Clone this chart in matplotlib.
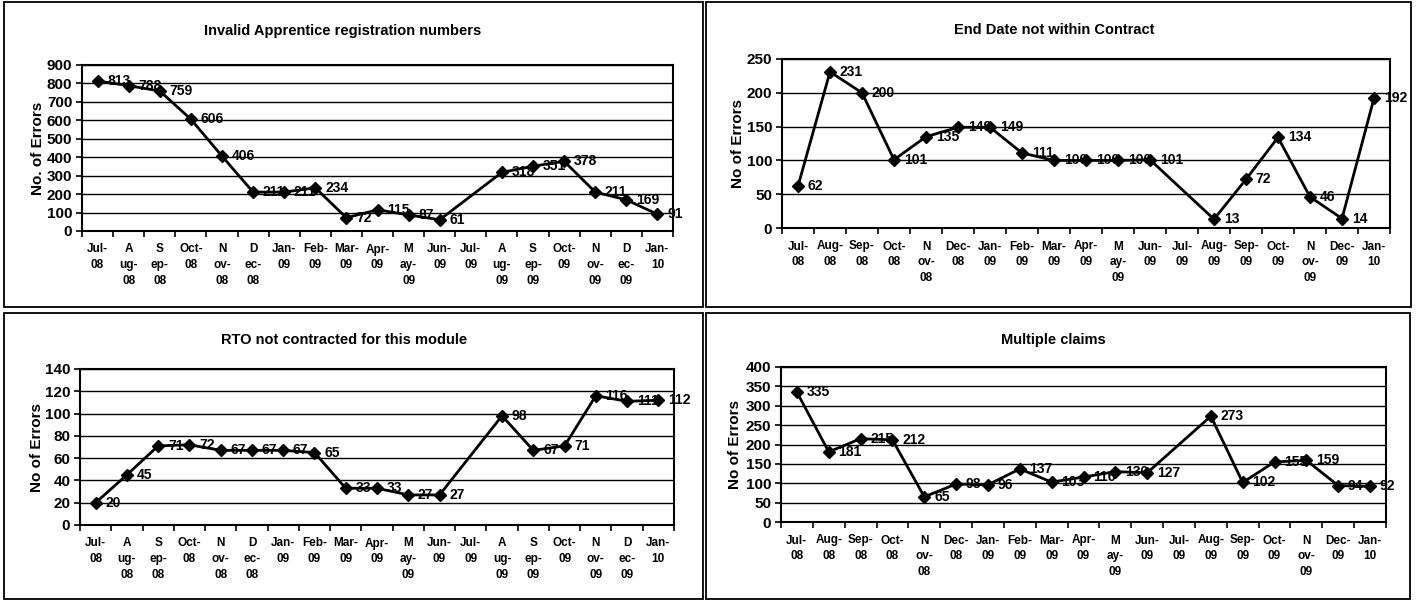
import matplotlib
matplotlib.use('Agg')
import matplotlib.pyplot as plt
from matplotlib.patches import Rectangle
import numpy as np

plt.rcParams['font.family'] = ['Liberation Sans', 'DejaVu Sans']
plt.rcParams['font.weight'] = 'bold'

W, H = 1419, 600

# ---- data (Jul-08 .. Jan-10, Jul-09 has no value) ----
months = ['Jul-08', 'Aug-08', 'Sep-08', 'Oct-08', 'Nov-08', 'Dec-08', 'Jan-09',
          'Feb-09', 'Mar-09', 'Apr-09', 'May-09', 'Jun-09', 'Jul-09', 'Aug-09',
          'Sep-09', 'Oct-09', 'Nov-09', 'Dec-09', 'Jan-10']

# wrapped tick labels as the spreadsheet drew them
ticks_narrow = ['Jul-\n08', 'A\nug-\n08', 'S\nep-\n08', 'Oct-\n08', 'N\nov-\n08',
                'D\nec-\n08', 'Jan-\n09', 'Feb-\n09', 'Mar-\n09', 'Apr-\n09',
                'M\nay-\n09', 'Jun-\n09', 'Jul-\n09', 'A\nug-\n09', 'S\nep-\n09',
                'Oct-\n09', 'N\nov-\n09', 'D\nec-\n09', 'Jan-\n10']
ticks_wide = ['Jul-\n08', 'Aug-\n08', 'Sep-\n08', 'Oct-\n08', 'N\nov-\n08',
              'Dec-\n08', 'Jan-\n09', 'Feb-\n09', 'Mar-\n09', 'Apr-\n09',
              'M\nay-\n09', 'Jun-\n09', 'Jul-\n09', 'Aug-\n09', 'Sep-\n09',
              'Oct-\n09', 'N\nov-\n09', 'Dec-\n09', 'Jan-\n10']

invalid_reg = [813, 788, 759, 606, 406, 211, 211, 234, 72, 115, 87, 61, None,
               318, 351, 378, 211, 169, 91]
end_date = [62, 231, 200, 101, 135, 149, 149, 111, 100, 100, 100, 101, None,
            13, 72, 134, 46, 14, 192]
rto_module = [20, 45, 71, 72, 67, 67, 67, 65, 33, 33, 27, 27, None,
              98, 67, 71, 116, 111, 112]
multi_claims = [335, 181, 215, 212, 65, 98, 96, 137, 103, 116, 130, 127, None,
                273, 102, 155, 159, 94, 92]


def px_rect(l, t, r, b):
    return [l / W, 1 - b / H, (r - l) / W, (b - t) / H]


def draw_panel(fig, box, title, title_xy, ylabel, ylabel_x, values, ymax, ystep, ticklabels):
    ax = fig.add_axes(px_rect(*box))
    x = [i for i, v in enumerate(values) if v is not None]
    y = [v for v in values if v is not None]
    ax.plot(x, y, color='black', lw=2, marker='D', ms=6, mfc='black', mec='black', zorder=3)
    for xi, yi in zip(x, y):
        ax.annotate(str(yi), (xi, yi), xytext=(7, 0), textcoords='offset points',
                    ha='left', va='center', fontsize=10, fontweight='bold', zorder=4)

    ax.set_xlim(-0.5, len(months) - 0.5)
    ax.set_ylim(0, ymax)
    ax.set_yticks(np.arange(0, ymax + 1, ystep))
    ax.set_xticks(range(len(months)))
    ax.set_xticklabels(ticklabels, fontsize=8.5, fontweight='bold', linespacing=1.4, va='top')
    ax.set_xticks(np.arange(-0.5, len(months)), minor=True)
    ax.tick_params(axis='x', which='major', length=0, pad=9)
    ax.tick_params(axis='x', which='minor', length=4, width=1.2, direction='out')
    ax.tick_params(axis='y', length=4, width=1.2, direction='out', pad=3, labelsize=11)
    for lab in ax.get_yticklabels():
        lab.set_fontweight('bold')
    ax.grid(axis='y', color='black', lw=1)
    ax.set_axisbelow(True)
    for s in ax.spines.values():
        s.set_linewidth(1.5)

    fig.text(title_xy[0] / W, 1 - title_xy[1] / H, title, ha='center', va='center',
             fontsize=10.5, fontweight='bold')
    cy = (box[1] + box[3]) / 2
    fig.text(ylabel_x / W, 1 - cy / H, ylabel, rotation=90, ha='center', va='center',
             fontsize=11, fontweight='bold')
    return ax


fig = plt.figure(figsize=(W / 100, H / 100), dpi=100)

# panel frames
for l, t, r, b in [(4, 2, 703, 307), (706, 2, 1411, 307), (4, 313, 703, 599), (706, 313, 1410, 599)]:
    fig.add_artist(Rectangle((l / W, 1 - b / H), (r - l) / W, (b - t) / H,
                             transform=fig.transFigure, fill=False, ec='black', lw=1.3))

draw_panel(fig, (82, 65, 673, 231), 'Invalid Apprentice registration numbers', (343, 31),
           'No. of Errors', 38, invalid_reg, 900, 100, ticks_narrow)
draw_panel(fig, (782, 59, 1390, 228), 'End Date not within Contract', (1054, 30),
           'No of Errors', 738, end_date, 250, 50, ticks_wide)
draw_panel(fig, (80, 369, 674, 525), 'RTO not contracted for this module', (344, 340),
           'No of Errors', 37, rto_module, 140, 20, ticks_narrow)
draw_panel(fig, (781, 367, 1386, 522), 'Multiple claims', (1053, 340),
           'No of Errors', 735, multi_claims, 400, 50, ticks_wide)

fig.savefig('out.png', dpi=100)
